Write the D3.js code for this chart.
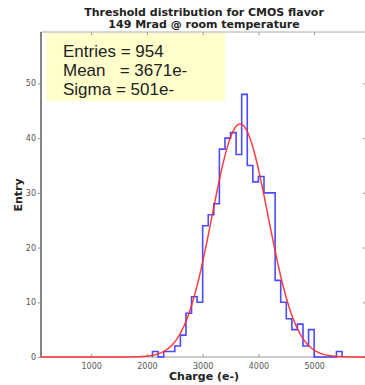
<!DOCTYPE html>
<html>
<head>
<meta charset="utf-8">
<script src="https://cdn.jsdelivr.net/npm/d3@7"></script>
<style>
  body { margin: 0; background: #fff; }
  svg { display: block; }
</style>
</head>
<body>
<div id="chart"></div>
<script>
// histogram bins (left edge in e-, bin width 100) and counts
const binStarts = [2100, 2200, 2300, 2400, 2500, 2600, 2700, 2800, 2900, 3000,
                   3100, 3200, 3300, 3400, 3500, 3600, 3700, 3800, 3900, 4000,
                   4100, 4200, 4300, 4400, 4500, 4600, 4700, 4800, 4900, 5000,
                   5100, 5200, 5300, 5400];
const counts = [1, 0, 1, 1, 2, 4, 8, 11, 10, 24,
                26, 28, 38, 40, 41, 37, 48, 35, 32, 33,
                30, 30, 14, 10, 7, 5, 6, 2, 5, 0,
                0, 0, 0, 1];
const binWidth = 100;

// gaussian fit parameters
const fitMean = 3671;
const fitSigma = 501;
const fitAmp = 42.6;

const statLines = ["Entries = 954", "Mean   = 3671e-", "Sigma = 501e-"];
const titleLines = ["Threshold distribution for CMOS flavor", "149 Mrad @ room temperature"];
const xTicks = [1000, 2000, 3000, 4000, 5000];
const yTicks = [0, 10, 20, 30, 40, 50];

const width = 365, height = 385;
const plot = { left: 41, right: 366, top: 32, bottom: 357 };

const svg = d3.select("#chart").append("svg")
    .attr("width", width)
    .attr("height", height);

const x = d3.scaleLinear().domain([100, 5930]).range([plot.left, plot.right]);
const y = d3.scaleLinear().domain([0, 59.4]).range([plot.bottom, plot.top]);

// title
svg.append("text")
    .attr("x", 204).attr("y", 16)
    .attr("text-anchor", "middle")
    .style("font", "bold 11px 'DejaVu Sans'")
    .attr("fill", "#222")
    .selectAll("tspan").data(titleLines).join("tspan")
    .attr("x", 204)
    .attr("dy", (d, i) => i ? 12 : 0)
    .text(d => d);

// frame: top and bottom grey, left dark
svg.append("line")
    .attr("x1", plot.left).attr("x2", plot.right)
    .attr("y1", plot.top).attr("y2", plot.top)
    .attr("stroke", "#aaa").attr("stroke-width", 1);
svg.append("line")
    .attr("x1", plot.left).attr("x2", plot.right)
    .attr("y1", plot.bottom).attr("y2", plot.bottom)
    .attr("stroke", "#999").attr("stroke-width", 1);

// stats box
svg.append("rect")
    .attr("x", 46).attr("y", plot.top + 1)
    .attr("width", 179).attr("height", 68)
    .attr("fill", "#ffffcc");

svg.append("g")
    .selectAll("text").data(statLines).join("text")
    .attr("x", 63)
    .attr("y", (d, i) => 57 + i * 19.2)
    .attr("xml:space", "preserve")
    .style("white-space", "pre")
    .style("font", "17px 'Liberation Sans', Arial, sans-serif")
    .attr("fill", "#222")
    .text(d => d);

// x axis ticks (inward) and labels
const xAxis = d3.axisBottom(x).tickValues(xTicks).tickSize(-3).tickPadding(6)
    .tickFormat(d3.format("d"));
const gx = svg.append("g")
    .attr("transform", `translate(0,${plot.bottom})`)
    .call(xAxis);
gx.select(".domain").remove();
gx.selectAll("line").attr("stroke", "#999");
gx.selectAll("text")
    .attr("fill", "#555")
    .style("font", "8px 'DejaVu Sans'");

// top ticks
const gxTop = svg.append("g")
    .attr("transform", `translate(0,${plot.top})`)
    .call(d3.axisTop(x).tickValues(xTicks).tickSize(-3).tickFormat(""));
gxTop.select(".domain").remove();
gxTop.selectAll("line").attr("stroke", "#999");

// y axis
const yAxis = d3.axisLeft(y).tickValues(yTicks).tickSize(3).tickPadding(2);
const gy = svg.append("g")
    .attr("transform", `translate(${plot.left},0)`)
    .call(yAxis);
gy.select(".domain")
    .attr("d", `M0,${plot.top}V${plot.bottom}`)
    .attr("stroke", "#333").attr("stroke-width", 1.2);
gy.selectAll("line").attr("stroke", "#999");
gy.selectAll("text")
    .attr("fill", "#555")
    .style("font", "8px 'DejaVu Sans'");

// right ticks
const gyRight = svg.append("g")
    .attr("transform", `translate(${plot.right},0)`)
    .call(d3.axisRight(y).tickValues(yTicks).tickSize(-3).tickFormat(""));
gyRight.select(".domain").remove();
gyRight.selectAll("line").attr("stroke", "#999");

// axis titles
svg.append("text")
    .attr("transform", "translate(22,195) rotate(-90)")
    .attr("text-anchor", "middle")
    .style("font", "bold 11px 'DejaVu Sans'")
    .attr("fill", "#222")
    .text("Entry");

svg.append("text")
    .attr("x", 204).attr("y", 380)
    .attr("text-anchor", "middle")
    .style("font", "bold 11px 'DejaVu Sans'")
    .attr("fill", "#222")
    .text("Charge (e-)");

// histogram outline
const histPts = [[binStarts[0], 0]]
    .concat(binStarts.map((b, i) => [b, counts[i]]))
    .concat([[binStarts[binStarts.length - 1] + binWidth, 0]]);

const stepLine = d3.line()
    .x(d => x(d[0]))
    .y(d => y(d[1]))
    .curve(d3.curveStepAfter);

svg.append("path")
    .datum(histPts)
    .attr("d", stepLine)
    .attr("fill", "none")
    .attr("stroke", "#2b2bff")
    .attr("stroke-opacity", 0.85)
    .attr("stroke-width", 1.6);

// gaussian fit curve
const fitPts = d3.range(x.domain()[0], x.domain()[1] + 1, 20)
    .map(v => [v, fitAmp * Math.exp(-0.5 * ((v - fitMean) / fitSigma) ** 2)]);

svg.append("path")
    .datum(fitPts)
    .attr("d", d3.line().x(d => x(d[0])).y(d => y(d[1])))
    .attr("fill", "none")
    .attr("stroke", "#ff2a2a")
    .attr("stroke-opacity", 0.9)
    .attr("stroke-width", 1.5);
</script>
</body>
</html>
